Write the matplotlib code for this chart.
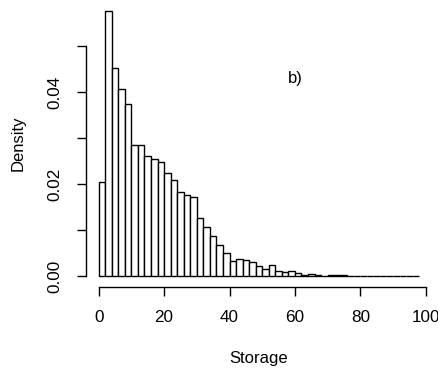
import matplotlib
matplotlib.use("Agg")
import matplotlib.pyplot as plt
import numpy as np

plt.rcParams['font.family'] = ['Liberation Sans', 'DejaVu Sans']

bin_width = 2
bin_starts = list(range(0, 98, 2))
density = [0.0204, 0.0576, 0.0453, 0.0407, 0.0373, 0.0286, 0.0285, 0.0262,
           0.0255, 0.0249, 0.0224, 0.0208, 0.0182, 0.0176, 0.0171, 0.0127,
           0.0107, 0.0088, 0.0068, 0.0050, 0.0033, 0.0037, 0.0035, 0.0030,
           0.0022, 0.0015, 0.0024, 0.0011, 0.0008, 0.0011, 0.0007, 0.0002,
           0.0005, 0.0002, 0.0001, 0.0003, 0.0003, 0.0002, 0.0, 0.0,
           0.0, 0.0001, 0.0, 0.0001, 0.0001, 0.0, 0.0, 0.0, 0.0]
x_ticks = [0, 20, 40, 60, 80, 100]
y_ticks = [0.00, 0.01, 0.02, 0.03, 0.04, 0.05]
y_labels = ["0.00", "", "0.02", "", "0.04", ""]

W, H = 438, 368
fig = plt.figure(figsize=(W / 100, H / 100), dpi=100)
left, right, top, bottom = 85.9, 432.0, 0.5, 286.7
ax = fig.add_axes([left / W, 1 - bottom / H, (right - left) / W, (bottom - top) / H])

ax.bar(bin_starts, density, width=bin_width, align='edge',
       facecolor='white', edgecolor='black', linewidth=1.0)

ax.set_xlim(-3.92, 101.92)
ax.set_ylim(-0.0023, 0.0599)

for s in ['top', 'right']:
    ax.spines[s].set_visible(False)
ax.spines['left'].set_bounds(0, 0.05)
ax.spines['bottom'].set_bounds(0, 100)
for s in ['left', 'bottom']:
    ax.spines[s].set_linewidth(1.0)

ax.set_xticks(x_ticks)
ax.set_xticklabels([str(t) for t in x_ticks], fontsize=12.3)
ax.set_yticks(y_ticks)
ax.set_yticklabels(y_labels, fontsize=12.3, rotation=90, va='center')
ax.tick_params(axis='both', direction='out', length=6.8, width=1.0, colors='black')
ax.tick_params(axis='x', pad=10)
ax.tick_params(axis='y', pad=10)

ax.set_xlabel("Storage", fontsize=12, labelpad=19)
ax.set_ylabel("Density", fontsize=12, labelpad=16)

ax.text(60, 0.043, "b)", fontsize=12, ha='center', va='center')

fig.savefig("out.png", dpi=100)
